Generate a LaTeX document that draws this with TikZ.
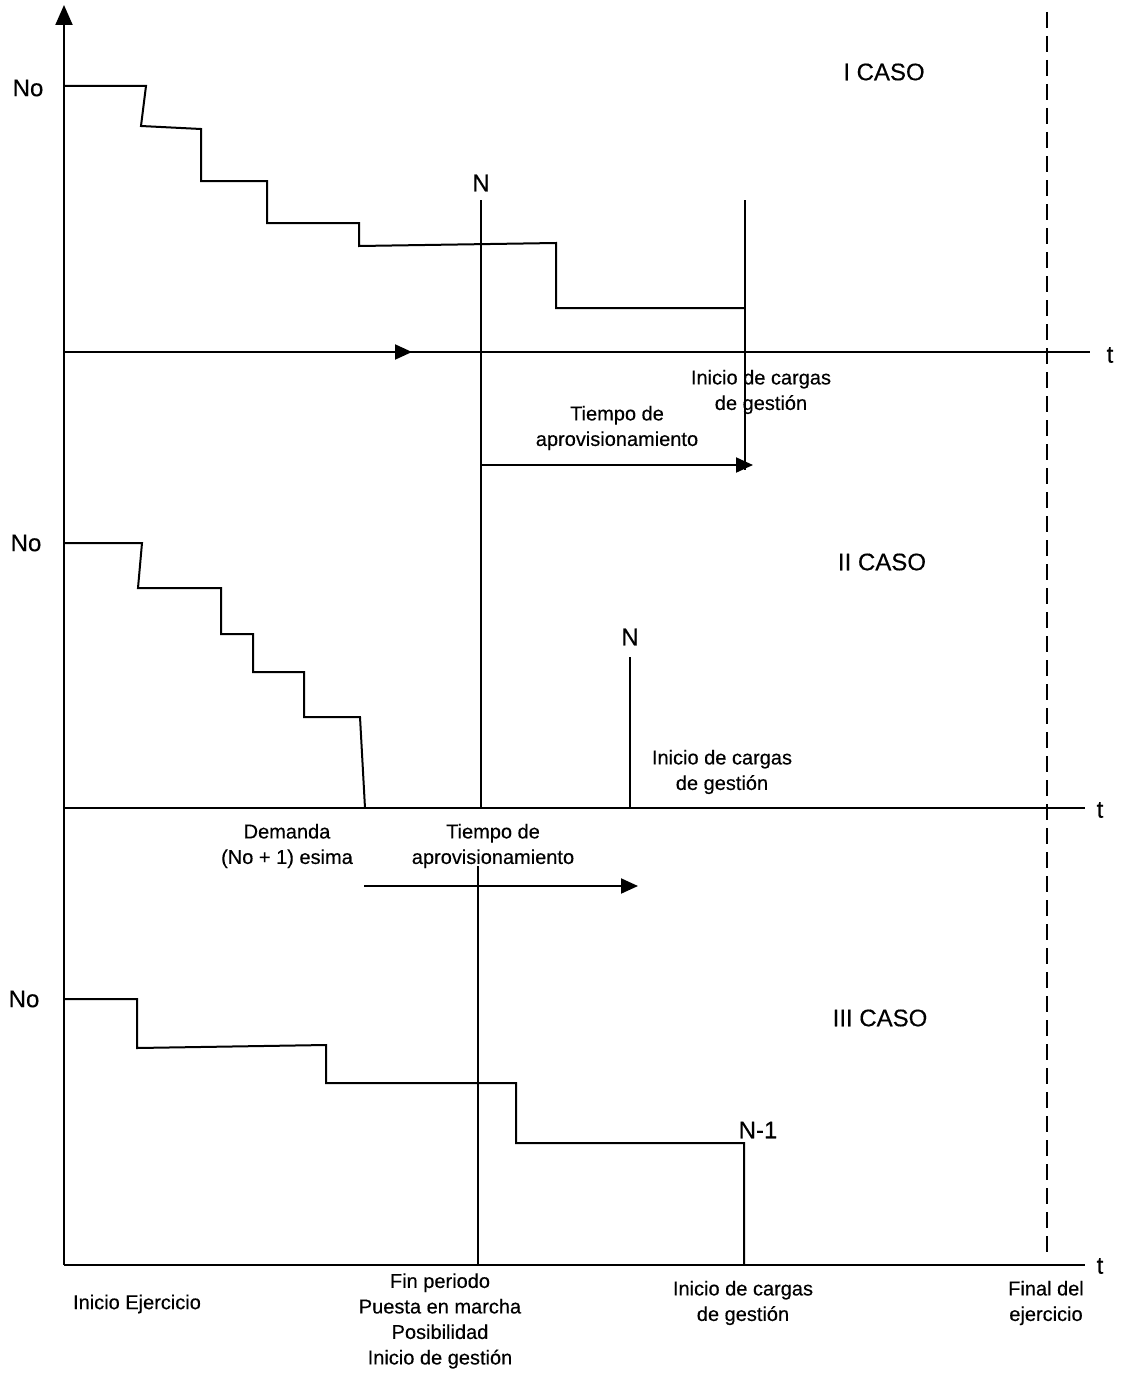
\documentclass[tikz,border=0pt]{standalone}
\usepackage{fontspec}
\setmainfont{Liberation Sans}[FakeBold=0.35]
\usetikzlibrary{arrows.meta}
\begin{document}
\begin{tikzpicture}[x=1pt,y=-1pt,
  ln/.style={line width=2pt,line join=miter},
  arr/.style={ln,-{Triangle[length=17pt,width=15pt]}},
  big/.style={inner sep=0pt,font=\fontsize{24}{28}\selectfont},
  lbl/.style={inner sep=0pt,align=center,font=\fontsize{20}{25.5}\selectfont},
  dsh/.style={line width=1.8pt,dash pattern=on 16pt off 8pt}]
\useasboundingbox (0,0) rectangle (1126,1378);
% axes coordinates
\coordinate (O) at (64,1265);
\coordinate (Top) at (64,5);
\coordinate (A1s) at (64,352);  \coordinate (A1e) at (1090,352); \coordinate (A1m) at (412,352);
\coordinate (A2s) at (64,808);  \coordinate (A2e) at (1085,808);
\coordinate (A3e) at (1085,1265);
% vertical axis
\draw[ln,-{Triangle[length=20pt,width=17pt]}] (O) -- (Top);
% time axes
\draw[ln] (A1s) -- (A1e);
\draw[arr] (A1s) -- (A1m);
\draw[ln] (A2s) -- (A2e);
\draw[ln] (O) -- (A3e);
\node[big] (t1) at (1110,355) {t};
\node[big] (t2) at (1100,810) {t};
\node[big] (t3) at (1100,1266) {t};
% dashed end line
\coordinate (D1) at (1047,12); \coordinate (D2) at (1047,1258);
\draw[dsh] (D1) -- (D2);

% ---------- I CASO ----------
\node[big] (no1) at (28,88) {No};
\node[big] (c1) at (884,72) {I CASO};
\draw[ln] (64,86) -- (146,86) -- (141,126) -- (201,129) -- (201,181) -- (267,181)
  -- (267,223) -- (359,223) -- (359,246) -- (556,243) -- (556,308) -- (745,308);
\node[big] (N1) at (481,183) {N};
\coordinate (N1b) at (481,200);
\coordinate (N1e) at (481,808);
\draw[ln] (N1b) -- (N1e);
\coordinate (C1b) at (745,200);
\coordinate (C1e) at (745,470);
\draw[ln] (C1b) -- (C1e);
\coordinate (T1s) at (481,465); \coordinate (T1e) at (753,465);
\draw[arr] (T1s) -- (T1e);
\node[lbl] (ic1) at (761,392) {Inicio de cargas\\de gestión};
\node[lbl] (tp1) at (617,428) {Tiempo de\\aprovisionamiento};

% ---------- II CASO ----------
\node[big] (no2) at (26,543) {No};
\node[big] (c2) at (882,562) {II CASO};
\draw[ln] (64,543) -- (142,543) -- (138,588) -- (221,588) -- (221,634) -- (253,634)
  -- (253,672) -- (304,672) -- (304,717) -- (360,717) -- (365,808);
\node[big] (N2) at (630,637) {N};
\coordinate (N2b) at (630,657); \coordinate (N2e) at (630,808);
\draw[ln] (N2b) -- (N2e);
\node[lbl] (ic2) at (722,772) {Inicio de cargas\\de gestión};
\node[lbl] (dem) at (287,846) {Demanda\\(No + 1) esima};
\node[lbl] (tp2) at (493,846) {Tiempo de\\aprovisionamiento};
\coordinate (T2s) at (364,886); \coordinate (T2e) at (638,886);
\draw[arr] (T2s) -- (T2e);
\coordinate (N3b) at (478,866); \coordinate (N3e) at (478,1265);
\draw[ln] (N3b) -- (N3e);

% ---------- III CASO ----------
\node[big] (no3) at (24,999) {No};
\node[big] (c3) at (880,1018) {III CASO};
\draw[ln] (64,999) -- (137,999) -- (137,1048) -- (326,1045) -- (326,1083) -- (516,1083)
  -- (516,1143) -- (744,1143) -- (744,1265);
\node[big] (Nm1) at (758,1130) {N-1};

% ---------- bottom labels ----------
\node[lbl] (b1) at (137,1304) {Inicio Ejercicio};
\node[lbl] (b2) at (440,1321) {Fin periodo\\Puesta en marcha\\Posibilidad\\Inicio de gestión};
\node[lbl] (b3) at (743,1303) {Inicio de cargas\\de gestión};
\node[lbl] (b4) at (1046,1303) {Final del\\ejercicio};
\end{tikzpicture}
\end{document}
